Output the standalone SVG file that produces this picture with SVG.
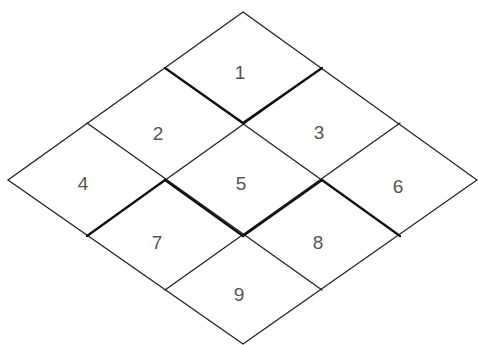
<svg xmlns="http://www.w3.org/2000/svg" width="478" height="345" viewBox="0 0 478 345">
<style>
.e{stroke:#222;stroke-width:1.3;fill:none;stroke-linecap:round}
.t{stroke:#111;stroke-width:2.2;fill:none;stroke-linecap:round}
.n{font-family:"Liberation Sans",Arial,sans-serif;font-size:19px;fill:#555;text-anchor:middle}
</style>
<rect width="478" height="345" fill="#fff"/>
<g id="connectors">
<polygon class="e" points="243,12 477,180 243,344 8,180"/>
<line class="e" x1="165" y1="68" x2="400" y2="236"/>
<line class="e" x1="87" y1="123" x2="322" y2="290"/>
<line class="e" x1="322" y1="68" x2="87" y2="236"/>
<line class="e" x1="400" y1="123" x2="165" y2="290"/>
<line class="t" x1="165" y1="68" x2="243" y2="123"/>
<line class="t" x1="322" y1="68" x2="243" y2="123"/>
<line class="t" x1="87" y1="236" x2="165" y2="180"/>
<line class="t" x1="165" y1="180" x2="243" y2="236"/>
<line class="t" x1="243" y1="236" x2="322" y2="180"/>
<line class="t" x1="322" y1="180" x2="400" y2="236"/>
</g>
<g id="n1"><text class="n" x="240" y="79">1</text></g>
<g id="n2"><text class="n" x="158" y="140">2</text></g>
<g id="n3"><text class="n" x="319" y="139">3</text></g>
<g id="n4"><text class="n" x="83" y="190">4</text></g>
<g id="n5"><text class="n" x="241" y="190">5</text></g>
<g id="n6"><text class="n" x="398" y="193">6</text></g>
<g id="n7"><text class="n" x="157" y="249">7</text></g>
<g id="n8"><text class="n" x="318" y="249">8</text></g>
<g id="n9"><text class="n" x="239" y="301">9</text></g>
</svg>
